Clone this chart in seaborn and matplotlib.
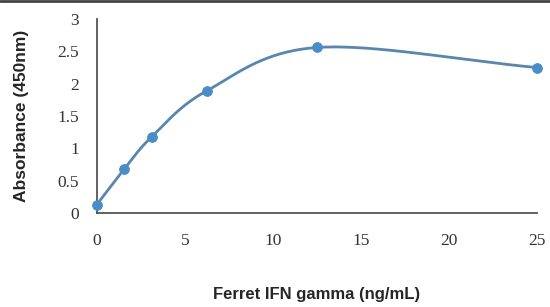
import numpy as np
import matplotlib
matplotlib.use("Agg")
import matplotlib.pyplot as plt
from matplotlib.lines import Line2D
import seaborn as sns
import pandas as pd

concentration = [0, 1.5625, 3.125, 6.25, 12.5, 25]
absorbance = [0.13, 0.68, 1.18, 1.89, 2.56, 2.25]
x_ticks = [0, 5, 10, 15, 20, 25]
y_ticks = [0, 0.5, 1, 1.5, 2, 2.5, 3]
y_tick_labels = ["0", "0.5", "1", "1.5", "2", "2.5", "3"]


def smooth(xs, ys, n=40):
    """Catmull-Rom style smoothing like Excel's smoothed line."""
    xs = np.asarray(xs, float)
    ys = np.asarray(ys, float)
    px = np.concatenate([[2 * xs[0] - xs[1]], xs, [2 * xs[-1] - xs[-2]]])
    py = np.concatenate([[2 * ys[0] - ys[1]], ys, [2 * ys[-1] - ys[-2]]])
    out_x, out_y = [], []
    for i in range(1, len(px) - 2):
        t = np.linspace(0, 1, n)
        for arr, out in ((px, out_x), (py, out_y)):
            p0, p1, p2, p3 = arr[i - 1], arr[i], arr[i + 1], arr[i + 2]
            c1 = p1 + (p2 - p0) / 6
            c2 = p2 - (p3 - p1) / 6
            out.extend((1 - t) ** 3 * p1 + 3 * (1 - t) ** 2 * t * c1
                       + 3 * (1 - t) * t ** 2 * c2 + t ** 3 * p2)
    return np.array(out_x), np.array(out_y)


sns.set_style("white")
fig = plt.figure(figsize=(5.5, 3.07), dpi=100)
ax = fig.add_axes([0.176, 0.306, 0.8, 0.632])

sx, sy = smooth(concentration, absorbance)
curve = pd.DataFrame({"x": sx, "y": sy})
pts = pd.DataFrame({"x": concentration, "y": absorbance})

sns.lineplot(data=curve, x="x", y="y", ax=ax, color="#5a86ad", linewidth=2, sort=False)
sns.scatterplot(data=pts, x="x", y="y", ax=ax, color="#4a8cc8", s=50,
                edgecolor="#4a8cc8", zorder=3, clip_on=False)

ax.set_xlim(0, 25)
ax.set_ylim(0, 3)
ax.set_xticks(x_ticks)
ax.set_yticks(y_ticks)
ax.set_yticklabels(y_tick_labels)
for lab in ax.get_xticklabels() + ax.get_yticklabels():
    lab.set_family("Liberation Serif")
    lab.set_fontsize(12.5)
    lab.set_color("#333333")
ax.tick_params(axis="both", length=0)
ax.tick_params(axis="x", pad=14)
ax.tick_params(axis="y", pad=13)

for side in ["top", "right"]:
    ax.spines[side].set_visible(False)
for side in ["left", "bottom"]:
    ax.spines[side].set_color("#555555")
    ax.spines[side].set_linewidth(1.3)

ax.set_xlabel("Ferret IFN gamma (ng/mL)", family="Liberation Sans",
              fontweight="bold", fontsize=12, labelpad=28)
ax.set_ylabel("Absorbance (450nm)", family="Liberation Sans",
              fontweight="bold", fontsize=12.5, labelpad=20)

fig.add_artist(Line2D([0, 1], [0.997, 0.997], transform=fig.transFigure,
                      color="#444444", linewidth=2))

fig.savefig("out.png", dpi=100)
